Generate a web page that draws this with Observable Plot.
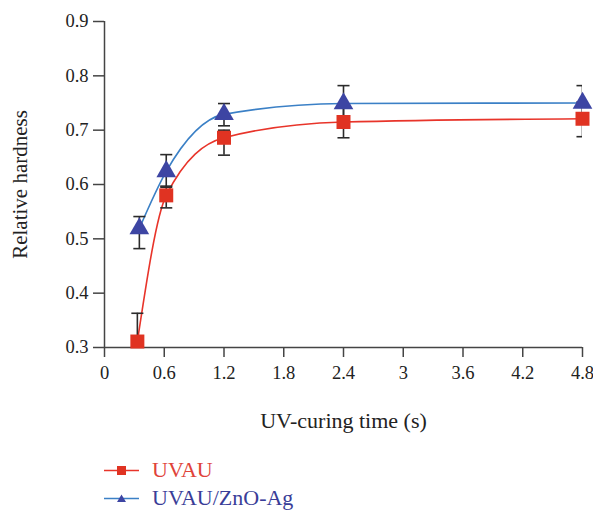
<!DOCTYPE html>
<html>
<head>
<meta charset="utf-8">
<script src="https://cdn.jsdelivr.net/npm/d3@7"></script>
<script src="https://cdn.jsdelivr.net/npm/@observablehq/plot@0.6"></script>
<style>
  body { margin: 0; background: #fff; font-family: "Liberation Serif", "DejaVu Serif", serif; }
  #wrap { position: relative; width: 593px; height: 510px; overflow: hidden; }
  .leg { position: absolute; left: 104px; display: flex; align-items: center; font-size: 22px; line-height: 24px; }
  .leg svg { margin-right: 13px; }
</style>
</head>
<body>
<div id="wrap"></div>
<script>
// ---- data ----
const seriesNames = ["UVAU", "UVAU/ZnO-Ag"];
const uvauX  = [0.33, 0.62, 1.2, 2.4, 4.8];
const uvauY  = [0.311, 0.580, 0.686, 0.715, 0.721];
const uvauLo = [0.258, 0.557, 0.654, 0.686, 0.688];
const uvauHi = [0.363, 0.597, 0.700, 0.744, 0.752];
const znoX  = [0.35, 0.62, 1.2, 2.4, 4.8];
const znoY  = [0.519, 0.624, 0.729, 0.749, 0.750];
const znoLo = [0.482, 0.595, 0.708, 0.720, 0.722];
const znoHi = [0.541, 0.655, 0.749, 0.782, 0.782];
const xTicks = [0, 0.6, 1.2, 1.8, 2.4, 3, 3.6, 4.2, 4.8];
const yTicks = [0.3, 0.4, 0.5, 0.6, 0.7, 0.8, 0.9];
const xLabel = "UV-curing time (s)";
const yLabel = "Relative hardness";

const colors = {
  "UVAU": {line: "#e8342a", mark: "#e03322", text: "#e0433a"},
  "UVAU/ZnO-Ag": {line: "#3b80c6", mark: "#3d45a3", text: "#3a3d98"}
};

const uvau = uvauX.map((x, i) => ({series: "UVAU", x, y: uvauY[i], lo: uvauLo[i], hi: uvauHi[i]}));
const zno = znoX.map((x, i) => ({series: "UVAU/ZnO-Ag", x, y: znoY[i], lo: znoLo[i], hi: znoHi[i]}));

const cap = { draw(ctx, size) { const w = Math.sqrt(size); ctx.moveTo(-w / 2, 0); ctx.lineTo(w / 2, 0); } };
const errColor = "#2b2b2b";
const font = "Liberation Serif, DejaVu Serif, serif";

function errMarks(data) {
  return [
    Plot.ruleX(data, {x: "x", y1: "lo", y2: "hi", stroke: errColor, strokeWidth: 1.6, clip: true}),
    Plot.dot(data, {x: "x", y: "lo", symbol: cap, r: 6.8, stroke: errColor, strokeWidth: 1.6, clip: true}),
    Plot.dot(data, {x: "x", y: "hi", symbol: cap, r: 6.8, stroke: errColor, strokeWidth: 1.6, clip: true})
  ];
}

const chart = Plot.plot({
  width: 593,
  height: 452,
  marginTop: 21,
  marginLeft: 104,
  marginRight: 11,
  marginBottom: 105,
  style: {fontFamily: font, fontSize: "18.5px", color: "#222", background: "#fff"},
  x: {domain: [0, 4.8]},
  y: {domain: [0.3, 0.9]},
  marks: [
    Plot.axisX({ticks: xTicks, tickFormat: d => String(+d.toFixed(1)), tickSize: 10, tickPadding: 8, stroke: "#444", strokeWidth: 1.5, label: null, fontSize: 18.5}),
    Plot.axisY({ticks: yTicks, tickFormat: ".1f", tickSize: 11, tickPadding: 5, stroke: "#444", strokeWidth: 1.5, label: null, fontSize: 18.5}),
    Plot.ruleY([0.3], {stroke: "#444", strokeWidth: 1.5}),
    Plot.ruleX([0], {stroke: "#444", strokeWidth: 1.5}),
    Plot.text([xLabel], {frameAnchor: "bottom", dy: 80, fontSize: 22, fill: "#222"}),
    Plot.text([yLabel], {frameAnchor: "left", textAnchor: "middle", dx: -84, rotate: -90, fontSize: 21, fill: "#222"}),
    Plot.line(zno, {x: "x", y: "y", curve: "monotone-x", stroke: colors["UVAU/ZnO-Ag"].line, strokeWidth: 1.6}),
    Plot.line(uvau, {x: "x", y: "y", curve: "monotone-x", stroke: colors["UVAU"].line, strokeWidth: 1.6}),
    ...errMarks(uvau),
    ...errMarks(zno),
    Plot.dot(uvau, {x: "x", y: "y", symbol: "square", r: 7.9, fill: colors["UVAU"].mark, stroke: "none"}),
    Plot.dot(zno, {x: "x", y: "y", symbol: "triangle", r: 7.3, fill: colors["UVAU/ZnO-Ag"].mark, stroke: "none"})
  ]
});

const wrap = document.getElementById("wrap");
wrap.appendChild(chart);

// legend
const legTops = [458, 486];
seriesNames.forEach((name, i) => {
  const c = colors[name];
  const div = document.createElement("div");
  div.className = "leg";
  div.style.top = legTops[i] + "px";
  const marker = i === 0
    ? `<rect x="13" y="4" width="9" height="9" fill="${c.mark}"/>`
    : `<path d="M17.5,4.5 L22,12 L13,12 Z" fill="${c.mark}"/>`;
  div.innerHTML = `<svg width="35" height="17"><line x1="0" x2="35" y1="8.5" y2="8.5" stroke="${c.line}" stroke-width="1.6"/>${marker}</svg><span style="color:${c.text}">${name}</span>`;
  wrap.appendChild(div);
});
</script>
</body>
</html>
